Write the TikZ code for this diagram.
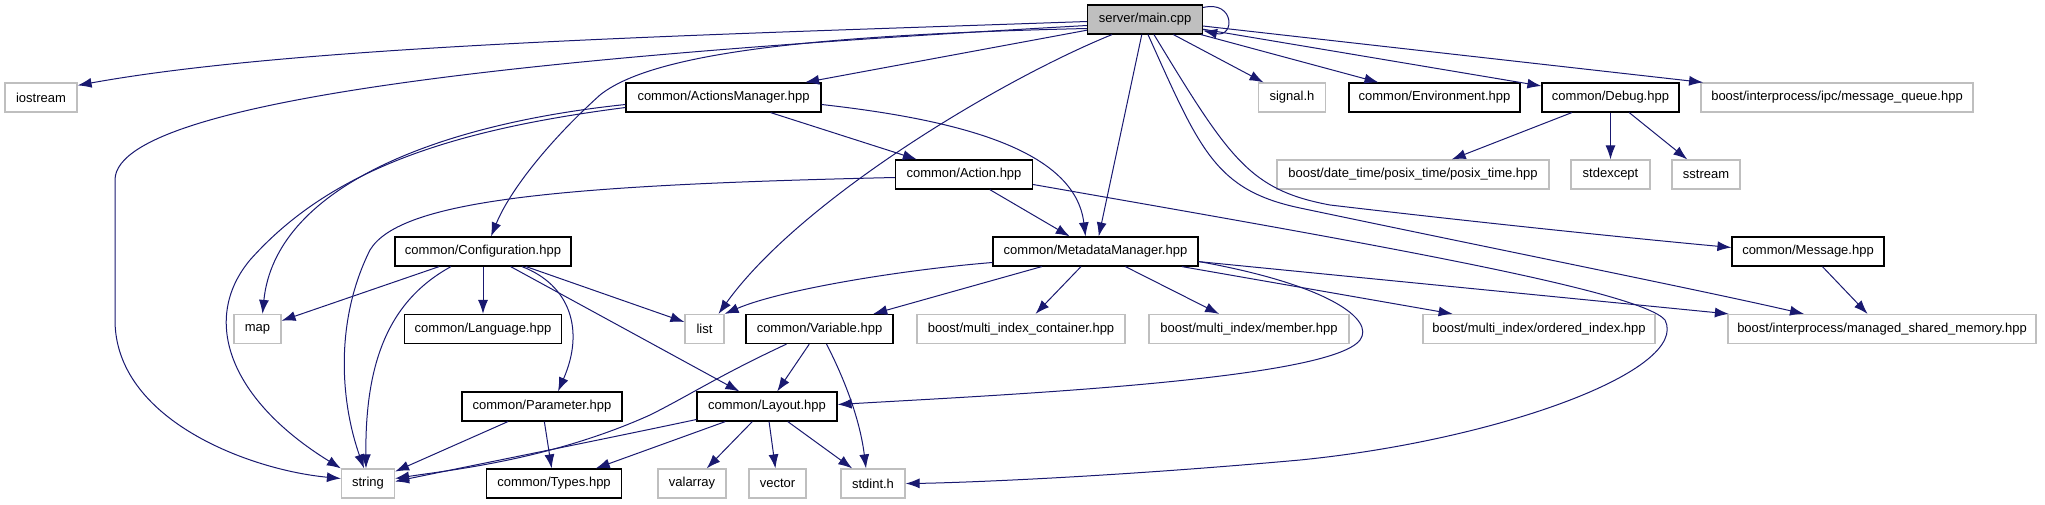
\documentclass[tikz,border=0pt]{standalone}
\usepackage{fontspec}
\setmainfont{Liberation Sans}
\usetikzlibrary{arrows.meta}
\definecolor{edgeblue}{HTML}{191970}
\definecolor{extgrey}{HTML}{BFBFBF}

\begin{document}
\begin{tikzpicture}[
    x=1pt, y=-1pt,
    file/.style={draw=black, line width=1.2pt, fill=white, minimum height=29pt, inner sep=0pt, font=\fontsize{13}{15}\selectfont},
    ext/.style={file, draw=extgrey},
    cur/.style={file, fill=extgrey},
    dep/.style={draw=edgeblue, line width=1pt, -{Latex[length=14pt, width=10pt]}}
  ]
  \useasboundingbox (0,0) rectangle (2045,504);

  \node[cur, minimum width=115pt] (main) at (1145,19.5) {server/main.cpp};

  \node[ext, minimum width=72pt] (iostream) at (41,97.5) {iostream};
  \node[file, minimum width=195pt] (am) at (723.5,97.5) {common/ActionsManager.hpp};
  \node[ext, minimum width=67pt] (signal) at (1292,97.5) {signal.h};
  \node[file, minimum width=171pt] (env) at (1434.5,97.5) {common/Environment.hpp};
  \node[file, minimum width=137pt] (debug) at (1610.5,97.5) {common/Debug.hpp};
  \node[ext, minimum width=272pt] (mq) at (1837,97.5) {boost/interprocess/ipc/message\_queue.hpp};

  \node[file, minimum width=137pt] (action) at (964,174.5) {common/Action.hpp};
  \node[ext, minimum width=272pt] (posix) at (1413,174.5) {boost/date\_time/posix\_time/posix\_time.hpp};
  \node[ext, minimum width=79pt] (stdexcept) at (1610.5,174.5) {stdexcept};
  \node[ext, minimum width=68pt] (sstream) at (1706,174.5) {sstream};

  \node[file, minimum width=176pt] (conf) at (483,251.5) {common/Configuration.hpp};
  \node[file, minimum width=205pt] (mm) at (1095.5,251.5) {common/MetadataManager.hpp};
  \node[file, minimum width=152pt] (message) at (1808,251.5) {common/Message.hpp};

  \node[ext, minimum width=47pt] (map) at (257.5,329) {map};
  \node[file, minimum width=157pt] (lang) at (483,329) {common/Language.hpp};
  \node[ext, minimum width=39pt] (list) at (704.5,329) {list};
  \node[file, minimum width=147pt] (var) at (819.5,329) {common/Variable.hpp};
  \node[ext, minimum width=208pt] (mic) at (1021,329) {boost/multi\_index\_container.hpp};
  \node[ext, minimum width=200pt] (member) at (1249,329) {boost/multi\_index/member.hpp};
  \node[ext, minimum width=232pt] (ordered) at (1539,329) {boost/multi\_index/ordered\_index.hpp};
  \node[ext, minimum width=308pt] (msm) at (1882,329) {boost/interprocess/managed\_shared\_memory.hpp};

  \node[file, minimum width=160pt] (param) at (542,406.5) {common/Parameter.hpp};
  \node[file, minimum width=140pt] (layout) at (767,406.5) {common/Layout.hpp};

  \node[ext, minimum width=53pt] (string) at (368,483.5) {string};
  \node[file, minimum width=135pt] (types) at (554,483.5) {common/Types.hpp};
  \node[ext, minimum width=68pt] (valarray) at (692,483.5) {valarray};
  \node[ext, minimum width=57pt] (vector) at (777.5,483.5) {vector};
  \node[ext, minimum width=64pt] (stdint) at (873,483.5) {stdint.h};

  \draw[dep] ([yshift=-2pt]main.west) .. controls (700,35) and (300,45) .. ([yshift=-3pt]iostream.north east);
  \draw[dep] ([yshift=-6pt]main.west) .. controls (650,50) and (115,90) .. (115,180) -- (115,320) .. controls (115,420) and (250,470) .. ([yshift=5pt]string.west);
  \draw[dep] ([yshift=-9pt]main.west) .. controls (800,35) and (650,55) .. (600,95) .. controls (550,140) and (510,190) .. ([xshift=8pt]conf.north);
  \draw[dep] (main) -- (am);
  \draw[dep] ([xshift=-33pt]main.south) .. controls (1000,80) and (800,200) .. ([xshift=14pt]list.north);
  \draw[dep] (main) -- (mm);
  \draw[dep] (main) -- (signal);
  \draw[dep] (main) -- (env);
  \draw[dep] (main) -- (debug);
  \draw[dep] (main) -- (mq);
  \draw[dep] ([xshift=9pt]main.south) .. controls (1230,160) and (1250,190) .. (1330,205) .. controls (1500,225) and (1650,240) .. ([yshift=4pt]message.west);
  \draw[dep] ([xshift=3pt]main.south) .. controls (1200,150) and (1215,190) .. (1300,208) .. controls (1500,250) and (1700,290) .. ([xshift=-78pt]msm.north);
  \draw[dep] ([yshift=12pt]main.east) .. controls (1235,0) and (1235,38) .. ([yshift=-11pt]main.east);

  \draw[dep] ([yshift=-10pt]am.west) .. controls (450,130) and (330,170) .. (250,260) .. controls (200,320) and (230,400) .. (string.north west);
  \draw[dep] ([yshift=-7pt]am.west) .. controls (430,125) and (275,190) .. ([xshift=5pt]map.north);
  \draw[dep] (am) -- (action);
  \draw[dep] ([yshift=-7pt]am.east) .. controls (960,120) and (1075,150) .. ([xshift=-10pt]mm.north);

  \draw[dep] ([yshift=-3pt]action.west) .. controls (560,185) and (400,200) .. (370,250) .. controls (335,320) and (340,400) .. ([xshift=-4pt]string.north);
  \draw[dep] (action) -- (mm);
  \draw[dep] ([yshift=-10pt]action.east) .. controls (1350,240) and (1640,290) .. (1665,320) .. controls (1690,370) and (1500,440) .. (1300,460) .. controls (1100,478) and (950,483) .. (stdint.east);

  \draw[dep] (conf) -- (map);
  \draw[dep] ([xshift=-32pt]conf.south) .. controls (390,300) and (365,360) .. ([xshift=-2pt]string.north);
  \draw[dep] (conf) -- (lang);
  \draw[dep] ([xshift=39pt]conf.south) .. controls (570,285) and (585,330) .. ([xshift=16pt]param.north);
  \draw[dep] (conf) -- (layout);
  \draw[dep] (conf) -- (list);

  \draw[dep] ([yshift=-11pt]mm.west) .. controls (900,270) and (780,290) .. (list.north east);
  \draw[dep] (mm) -- (var);
  \draw[dep] (mm) -- (mic);
  \draw[dep] (mm) -- (member);
  \draw[dep] (mm) -- (ordered);
  \draw[dep] (mm) -- (msm);
  \draw[dep] ([yshift=-10pt]mm.east) .. controls (1330,285) and (1375,320) .. (1360,340) .. controls (1330,380) and (1000,395) .. ([yshift=2pt]layout.east);

  \draw[dep] (message) -- (msm);

  \draw[dep] (debug) -- (posix);
  \draw[dep] (debug) -- (stdexcept);
  \draw[dep] (debug) -- (sstream);

  \draw[dep] ([xshift=-33pt]var.south) .. controls (720,375) and (690,395) .. (650,415) .. controls (550,460) and (450,470) .. ([yshift=5pt]string.east);
  \draw[dep] (var) -- (layout);
  \draw[dep] ([xshift=7pt]var.south) .. controls (845,380) and (860,420) .. ([xshift=-7pt]stdint.north);

  \draw[dep] (param) -- (string);
  \draw[dep] (param) -- (types);

  \draw[dep] ([yshift=-13pt]layout.west) .. controls (600,440) and (450,470) .. ([yshift=2pt]string.east);
  \draw[dep] (layout) -- (types);
  \draw[dep] (layout) -- (valarray);
  \draw[dep] (layout) -- (vector);
  \draw[dep] (layout) -- (stdint);
\end{tikzpicture}
\end{document}
